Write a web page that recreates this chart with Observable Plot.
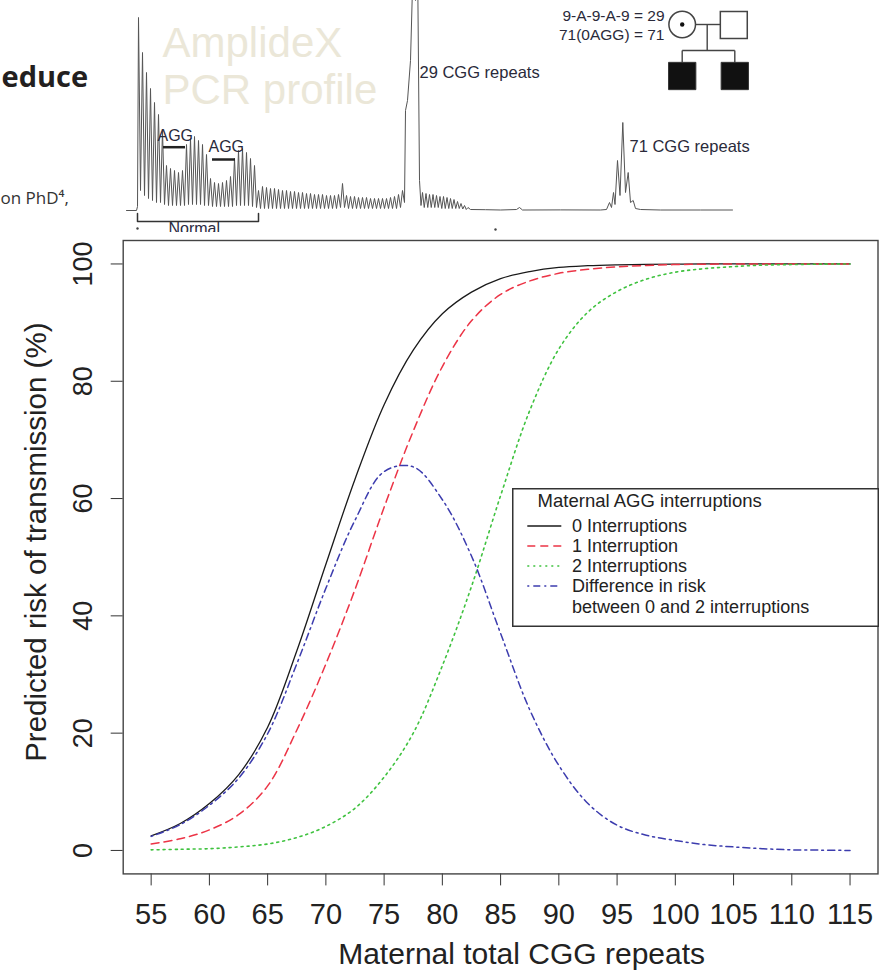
<!DOCTYPE html>
<html><head><meta charset="utf-8">
<script src="https://cdn.jsdelivr.net/npm/d3@7"></script>
<script src="https://cdn.jsdelivr.net/npm/@observablehq/plot@0.6"></script>
<style>
html,body{margin:0;padding:0;background:#fff;}
#page{position:relative;width:879px;height:970px;overflow:hidden;background:#fff;font-family:"Liberation Sans",Arial,sans-serif;}
#header{position:absolute;left:0;top:0;width:879px;height:232px;overflow:hidden;}
#chart{position:absolute;left:0;top:232px;}
#legend{position:absolute;left:512px;top:488px;}
svg{display:block;}
</style></head><body>
<div id="page"><div id="chart"></div><div id="header"></div><div id="legend"></div></div>
<script>
// ---------------- main chart data ----------------
const cgg = [55, 57.5, 60, 62.5, 65, 67.5, 70, 72.5, 75, 77.5, 80, 82.5, 85, 87.5, 90, 92.5, 95, 97.5, 100, 102.5, 105, 107.5, 110, 112.5, 115];
const risk0 = [2.5, 4.6, 8.0, 12.9, 21.0, 34.0, 48.8, 63.3, 76.0, 85.3, 91.5, 95.2, 97.5, 98.7, 99.4, 99.7, 99.85, 99.93, 99.97, 100, 100, 100, 100, 100, 100];
const risk1 = [1.1, 2.0, 3.5, 6.1, 11.0, 20.5, 31.8, 44.5, 58.5, 71.5, 82.5, 90.3, 94.8, 97.1, 98.4, 99.1, 99.5, 99.75, 99.9, 99.95, 100, 100, 100, 100, 100];
const risk2 = [0.1, 0.2, 0.3, 0.6, 1.1, 2.2, 4.1, 7.2, 12.5, 20.0, 31.5, 45.0, 60.5, 75.0, 85.5, 91.8, 95.3, 97.4, 98.6, 99.2, 99.55, 99.8, 99.9, 99.97, 100];
const riskDiff = [2.4, 4.4, 7.7, 12.3, 19.9, 31.8, 44.7, 56.3, 64.6, 65.4, 59.8, 50.2, 37.0, 24.0, 14.5, 8.0, 4.3, 2.6, 1.7, 1.0, 0.6, 0.3, 0.1, 0.05, 0];
const seriesNames = ["0 Interruptions", "1 Interruption", "2 Interruptions", "Difference in risk\nbetween 0 and 2 interruptions"];
const xTicks = [55, 60, 65, 70, 75, 80, 85, 90, 95, 100, 105, 110, 115];
const yTicks = [0, 20, 40, 60, 80, 100];
const xTitle = "Maternal total CGG repeats";
const yTitle = "Predicted risk of transmission (%)";
const legendTitle = "Maternal AGG interruptions";

// ---------------- header (PCR profile) data ----------------
// electropherogram trace: [position, signal]
const trace = [
 [126,0],[136,0],[137,4],
 [138,193],[140,20],[142,158],[144,15],[146,138],[148,12],[150,122],[152,10],[154,108],[156,8],[158,96],[160,8],
 [162,80],[164,6],[166,45],[168,5],[170,42],[172,5],[174,40],[176,5],[178,38],[180,5],[182,40],[184,5],
 [186,66],[188,6],[190,72],[192,6],[194,74],[196,6],[198,70],[200,6],[202,66],[204,5],[206,56],[208,5],
 [210,32],[212,4],[214,28],[216,4],[218,27],[220,4],[222,28],[224,4],[226,30],[228,4],[230,34],[232,4],
 [234,52],[236,5],[238,60],[240,5],[242,62],[244,5],[246,58],[248,5],[250,52],[252,4],[254,45],[256,3],[258,20],[260,2],
 [262,24],[264,2],[266,23],[268,2],[270,22],[272,2],[274,22],[276,2],[278,21],[280,2],[282,20],[284,2],[286,20],[288,2],
 [290,19],[292,2],[294,19],[296,2],[298,18],[300,2],[302,18],[304,2],[306,17],[308,2],[310,17],[312,2],[314,16],[316,2],
 [318,16],[320,2],[322,16],[324,2],[326,15],[328,2],[330,15],[332,2],[334,15],[336,2],[338,16],[340,3],[342,27],[344,3],
 [346,15],[348,2],[350,14],[352,2],[354,14],[356,2],[358,13],[360,2],[362,13],[364,2],[366,13],[368,2],[370,12],[372,2],
 [374,12],[376,2],[378,12],[380,2],[382,12],[384,2],[386,12],[388,2],[390,13],[392,2],[394,14],[396,2],[398,16],[400,3],
 [402,20],[404,8],[405,100],[407,110],[410,150],[413,260],[415,210],[417,260],[419,30],[420.5,5],
 [422,18],[423.75,3],[425.5,17],[427.25,3],[429,16],[430.75,3],[432.5,16],[434.25,3],[436,15],[437.75,3],[439.5,14],[441.25,2],
 [443,14],[444.75,2],[446.5,13],[448.25,2],[450,12],[451.75,2],[453.5,11],[455.25,2],[457,9],[458.75,2],[460.5,7],[462.25,1.5],
 [464,5],[465.75,1],[467.5,3],[470,1],[485,0.8],[500,0.5],[516,1],[519,3],[522,0.5],[560,0.6],[600,0.5],
 [606,1],[609,8],[611,3],[613,18],[614.5,6],[617,50],[619.5,15],[622.3,88],[625,18],[627.7,38],[630,8],[632.7,10],[635,2],
 [640,1],[660,0.5],[700,0.5],[732,0.5]
];
const peakLabels = ["29 CGG repeats", "71 CGG repeats"];
const aggLabels = ["AGG", "AGG"];
const genotypeLabels = ["9-A-9-A-9 = 29", "71(0AGG) = 71"];
const watermark = ["AmplideX", "PCR profile"];
const bracketLabel = "Normal";
const sideText = ["educe", "on PhD\u2074,"];

// ---------------- styles ----------------
const colors = ["#1a1a1a", "#ec3446", "#3fc23f", "#3c3cae"];
const dashes = [null, "8,5", "2,4", "2,4,7,4"];
const widths = [1.3, 1.5, 1.6, 1.5];
const font = "'Liberation Sans', Arial, sans-serif";

// ---------------- main chart ----------------
const allSeries = [risk0, risk1, risk2, riskDiff];
const lineMarks = allSeries.map((vals, i) =>
  Plot.line(cgg.map((x, j) => ({x, y: vals[j], series: seriesNames[i]})), {
    x: "x", y: "y", stroke: colors[i], strokeWidth: widths[i],
    strokeDasharray: dashes[i] || undefined, curve: "catmull-rom"
  })
);

const chart = Plot.plot({
  width: 879, height: 738,
  marginTop: 8, marginBottom: 96.6, marginLeft: 122.7, marginRight: 1.5,
  x: {domain: [52.6, 117.4], ticks: xTicks, tickSize: 12, tickFormat: () => "", label: null},
  y: {domain: [-4, 104], ticks: yTicks, tickSize: 12, tickFormat: () => "", label: null},
  style: {background: "#fff", fontFamily: font, color: "#333", overflow: "visible"},
  marks: [
    Plot.frame({stroke: "#444", strokeWidth: 1.4}),
    ...lineMarks,
    Plot.text(xTicks, {x: d => d, text: d => String(d), frameAnchor: "bottom", lineAnchor: "bottom", dy: 50, fontSize: 29, fill: "#222"}),
    Plot.text(yTicks, {y: d => d, text: d => String(d), frameAnchor: "left", dx: -39.4, rotate: -90, textAnchor: "middle", lineAnchor: "middle", fontSize: 27, fill: "#222"}),
    Plot.text([xTitle], {text: d => d, frameAnchor: "bottom", dx: 21, dy: 89.6, lineAnchor: "bottom", fontSize: 30, fill: "#222"}),
    Plot.text([yTitle], {text: d => d, frameAnchor: "left", dx: -86.7, dy: -15, rotate: -90, textAnchor: "middle", lineAnchor: "middle", fontSize: 29.5, fill: "#222"})
  ]
});
document.getElementById("chart").appendChild(chart);

// ---------------- header ----------------
const pedLinks = [
  {x1: 695, y1: 186, x2: 720, y2: 186},
  {x1: 706.7, y1: 186, x2: 706.7, y2: 160},
  {x1: 681.7, y1: 160, x2: 734.3, y2: 160},
  {x1: 681.7, y1: 160, x2: 681.7, y2: 148},
  {x1: 734.3, y1: 160, x2: 734.3, y2: 148}
];
const header = Plot.plot({
  width: 879, height: 232, margin: 0,
  x: {domain: [0, 879], axis: null},
  y: {domain: [-22, 210], axis: null},
  style: {background: "transparent", overflow: "hidden", fontFamily: font},
  marks: [
    Plot.text(watermark, {x: 162, y: (d, i) => [153.3, 106.7][i], text: d => d, textAnchor: "start", lineAnchor: "bottom", fontSize: 42, fill: "#ebe7d8"}),
    Plot.line(trace, {x: d => d[0], y: d => d[1], stroke: "#555", strokeWidth: 1, clip: true}),
    Plot.line([[137, -3], [137, -11], [258, -11], [258, -3]], {x: d => d[0], y: d => d[1], stroke: "#333", strokeWidth: 1.5}),
    Plot.text([bracketLabel], {x: 168, y: -23, text: d => d, textAnchor: "start", lineAnchor: "bottom", fontSize: 16, fill: "#2a2a40"}),
    Plot.dot([[137, -18], [495, -19]], {x: d => d[0], y: d => d[1], r: 1.2, fill: "#444"}),
    Plot.text(aggLabels, {x: (d, i) => [157, 208][i], y: (d, i) => [70, 58.3][i], text: d => d, textAnchor: "start", lineAnchor: "bottom", fontSize: 16, fill: "#2a2a3a"}),
    Plot.ruleY(aggLabels, {y: (d, i) => [63.3, 51][i], x1: (d, i) => [163, 212][i], x2: (d, i) => [185, 235][i], stroke: "#222", strokeWidth: 2.5}),
    Plot.text(peakLabels, {x: (d, i) => [419, 629][i], y: (d, i) => [132.7, 58.3][i], text: d => d, textAnchor: "start", lineAnchor: "bottom", fontSize: 16.5, fill: "#2a2a3a"}),
    Plot.text(genotypeLabels, {x: 664, y: (d, i) => [190, 170.7][i], text: d => d, textAnchor: "end", lineAnchor: "bottom", fontSize: 15.5, fill: "#2a2a3a"}),
    Plot.link(pedLinks, {x1: "x1", y1: "y1", x2: "x2", y2: "y2", stroke: "#444", strokeWidth: 1.4}),
    Plot.dot([[681.7, 186]], {x: d => d[0], y: d => d[1], r: 13.3, stroke: "#444", strokeWidth: 1.5, fill: "#fff"}),
    Plot.dot([[681.7, 186]], {x: d => d[0], y: d => d[1], r: 2.2, fill: "#111"}),
    Plot.dot([[733.3, 185.5]], {x: d => d[0], y: d => d[1], r: 15.2, symbol: "square", stroke: "#444", strokeWidth: 1.5, fill: "#fff"}),
    Plot.dot([[681.7, 134.5], [734.3, 134.5]], {x: d => d[0], y: d => d[1], r: 15.4, symbol: "square", stroke: "#333", strokeWidth: 1, fill: "#111"}),
    Plot.text([sideText[0]], {x: 1, y: 123.3, text: d => d, textAnchor: "start", lineAnchor: "bottom", fontSize: 29, fontWeight: 700, fontFamily: "'Open Sans', sans-serif", fill: "#231f20"}),
    Plot.text([sideText[1]], {x: 0, y: 7, text: d => d, textAnchor: "start", lineAnchor: "bottom", fontSize: 17, fontFamily: "'Open Sans', sans-serif", fill: "#333"})
  ]
});
document.getElementById("header").appendChild(header);

// ---------------- legend ----------------
const lg = d3.select("#legend").append("svg").attr("width", 367).attr("height", 139)
  .style("font-family", font);
lg.append("rect").attr("x", 0.75).attr("y", 0.75).attr("width", 365.5).attr("height", 137.5)
  .attr("fill", "#fff").attr("stroke", "#333").attr("stroke-width", 1.5);
lg.append("text").attr("x", 25.6).attr("y", 19).attr("font-size", 18.5).attr("fill", "#222").text(legendTitle);
seriesNames.forEach((name, i) => {
  const yl = 38 + 20 * i;
  lg.append("line").attr("x1", 15.3).attr("x2", 49.3).attr("y1", yl).attr("y2", yl)
    .attr("stroke", colors[i]).attr("stroke-width", widths[i])
    .attr("stroke-dasharray", dashes[i]);
  name.split("\n").forEach((part, k) => {
    lg.append("text").attr("x", 60).attr("y", 44 + 20 * i + 21 * k).attr("font-size", 18).attr("fill", "#222").text(part);
  });
});
</script></body></html>
